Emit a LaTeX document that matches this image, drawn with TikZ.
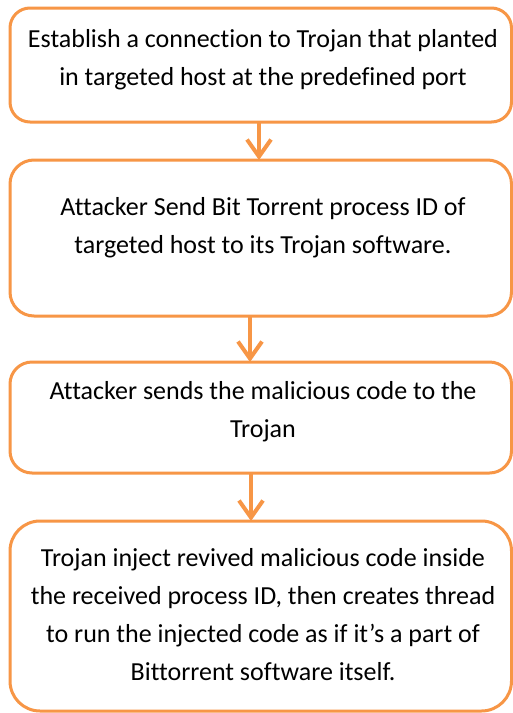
\documentclass[tikz,border=0pt]{standalone}
\usepackage{fontspec}
\setmainfont[Ligatures={NoCommon}]{Carlito}
\usetikzlibrary{arrows.meta}
\definecolor{acc}{HTML}{F79646}
\tikzset{
  stepbox/.style={draw=acc, line width=3pt, fill=white},
  txt/.style={align=center, font=\fontsize{26}{38}\selectfont, inner sep=0pt},
  flow/.style={draw=acc, line width=4pt, -{Straight Barb[length=17pt, width=24pt, line width=4pt]}}
}
\begin{document}
\begin{tikzpicture}[x=1pt, y=-1pt]
\useasboundingbox (0,0) rectangle (512,713);
\fill[white] (0,0) rectangle (512,713);
% boxes
\draw[stepbox, rounded corners=20pt] (10,8) rectangle (511.5,122);
\draw[stepbox, rounded corners=24pt] (10,160) rectangle (511.5,316);
\draw[stepbox, rounded corners=22pt] (10,362) rectangle (511.5,473);
\draw[stepbox, rounded corners=30pt] (10,521) rectangle (511.5,711);
\coordinate (b1s) at (259,122);
\coordinate (b2n) at (259,160);
\coordinate (b2s) at (250,316);
\coordinate (b3n) at (250,362);
\coordinate (b3s) at (251,473);
\coordinate (b4n) at (251,521);
% texts
\node[txt] (t1) at (263,60) {Establish a connection to Trojan that planted\\in targeted host at the predefined port};
\node[txt] (t2) at (263,228) {Attacker Send Bit Torrent process ID of\\targeted host to its Trojan software.};
\node[txt] (t3) at (263,412) {Attacker sends the malicious code to the\\Trojan};
\node[txt] (t4) at (263,615) {Trojan inject revived malicious code inside\\the received process ID, then creates thread\\to run the injected code as if it’s a part of\\Bittorrent software itself.};
% arrows
\draw[flow] (b1s) -- (b2n);
\draw[flow] (b2s) -- (b3n);
\draw[flow] (b3s) -- (b4n);
\end{tikzpicture}
\end{document}
